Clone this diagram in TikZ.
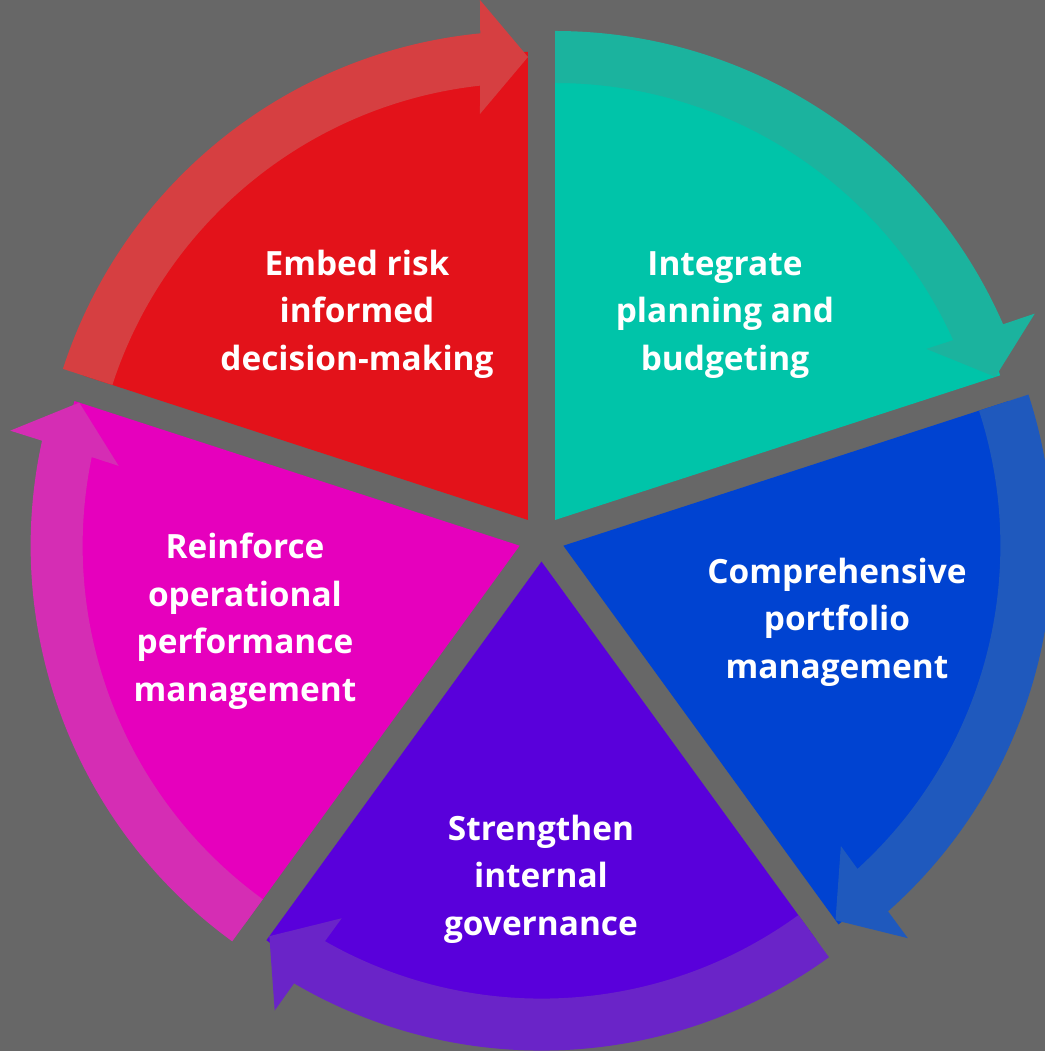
\documentclass[tikz,border=0pt]{standalone}
\usepackage{fontspec}
\setmainfont{Open Sans}
\usepackage{tikz}
\usetikzlibrary{calc}
\definecolor{bggray}{HTML}{676767}
\definecolor{redwedge}{HTML}{E3121A}
\definecolor{redarrow}{HTML}{D63F41}
\definecolor{tealwedge}{HTML}{00C4A9}
\definecolor{tealarrow}{HTML}{1BB39E}
\definecolor{bluewedge}{HTML}{0043D1}
\definecolor{bluearrow}{HTML}{1F59BD}
\definecolor{purplewedge}{HTML}{5900DB}
\definecolor{purplearrow}{HTML}{6A24C8}
\definecolor{pinkwedge}{HTML}{E600BD}
\definecolor{pinkarrow}{HTML}{D52DB4}
% #1 bisector angle, #2 wedge colour, #3 arrow colour
\newcommand{\cyclesector}[3]{%
  \begin{scope}[shift={($(c)+(#1:23)$)}]
    \fill[#2] (0,0) -- (#1+36:468) arc[start angle=#1+36, end angle=#1-36, radius=468] -- cycle;
    \fill[#3] (#1+36:489) arc[start angle=#1+36, end angle=#1-30.4, radius=489]
      -- ($(#1-36:463)+(#1+54:48)+(#1-36:57)$) -- (#1-36:463)
      -- ($(#1-36:463)+(#1+54:48)+(#1-36:-57)$)
      -- (#1-29.7:437) arc[start angle=#1-29.7, end angle=#1+36, radius=437] -- cycle;
  \end{scope}}

\begin{document}
\begin{tikzpicture}[x=0.5pt, y=0.5pt,
  lbl/.style={text=white, font=\bfseries\fontsize{16.7}{23.75}\selectfont,
              align=center, inner sep=0pt}]
\fill[bggray] (0,0) rectangle (1045,1051);
\useasboundingbox (0,0) rectangle (1045,1051);
\coordinate (c) at (541.5,512.4);
\cyclesector{126}{redwedge}{redarrow}
\cyclesector{54}{tealwedge}{tealarrow}
\cyclesector{-18}{bluewedge}{bluearrow}
\cyclesector{-90}{purplewedge}{purplearrow}
\cyclesector{-162}{pinkwedge}{pinkarrow}
\node[lbl] (risk) at (357,737) {Embed risk\\ informed\\ decision-making};
\node[lbl] (plan) at (725,736) {Integrate\\ planning and\\ budgeting};
\node[lbl] (port) at (837,429) {Comprehensive\\ portfolio\\ management};
\node[lbl] (gov)  at (541,172) {Strengthen\\ internal\\ governance};
\node[lbl] (perf) at (245,430) {Reinforce\\ operational\\ performance\\ management};
\end{tikzpicture}
\end{document}
